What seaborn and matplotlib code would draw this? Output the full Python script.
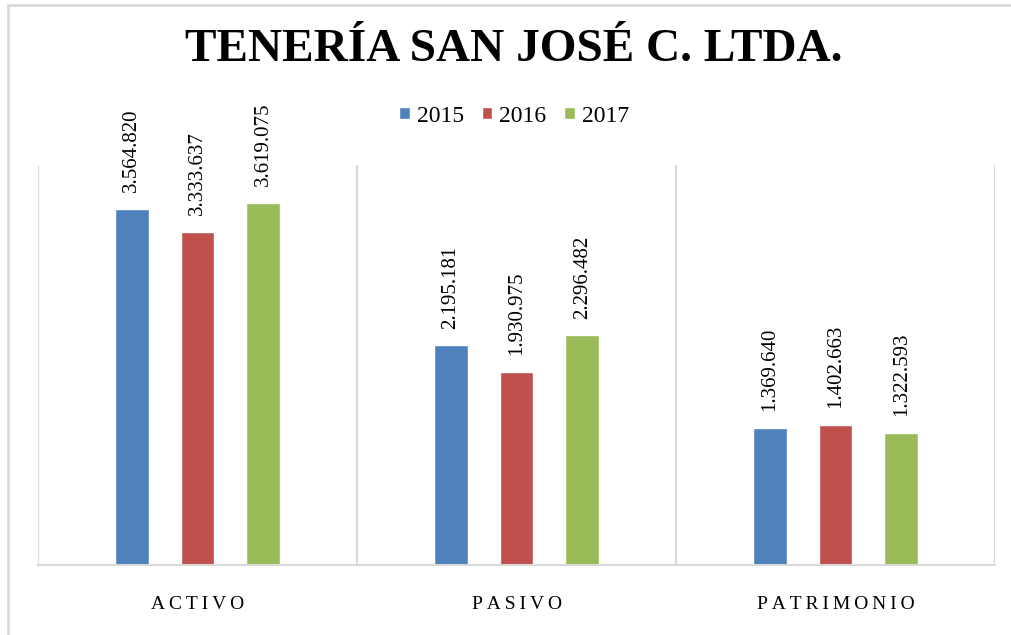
import pandas as pd
import numpy as np
import seaborn as sns
import matplotlib.pyplot as plt
from matplotlib.lines import Line2D

categorias = ["ACTIVO", "PASIVO", "PATRIMONIO"]
anios = ["2015", "2016", "2017"]
v2015 = [3564820, 2195181, 1369640]
v2016 = [3333637, 1930975, 1402663]
v2017 = [3619075, 2296482, 1322593]
colores = ["#4F81BD", "#C0504D", "#9BBB59"]

df = pd.DataFrame({
    "cuenta": categorias * 3,
    "anio": [a for a in anios for _ in categorias],
    "valor": v2015 + v2016 + v2017,
})

sns.set_style("white")
plt.rcParams["font.family"] = ["Liberation Serif", "DejaVu Serif"]
plt.rcParams["text.color"] = "black"
plt.rcParams["xtick.color"] = "black"

fig = plt.figure(figsize=(10.11, 6.35), dpi=100)
ax = fig.add_axes([38 / 1011, 1 - 565 / 635, (995 - 38) / 1011, 400 / 635])

sns.barplot(data=df, x="cuenta", y="valor", hue="anio", palette=colores,
            width=0.62, gap=0.485, ax=ax, saturation=1)

for c in ax.containers:
    ax.bar_label(c, labels=[f"{int(v):,}".replace(",", ".") for v in c.datavalues],
                 rotation=90, padding=12, fontsize=15, color="black")

ax.set_ylim(0, 4000000)
ax.set_xlim(-0.5, 2.5)
ax.set_yticks([])
ax.set_xlabel("")
ax.set_ylabel("")
for s in ["top", "left", "right"]:
    ax.spines[s].set_visible(False)
ax.spines["bottom"].set_color("#D9D9D9")
ax.spines["bottom"].set_linewidth(1.5)
for xv in [-0.5, 0.5, 1.5, 2.5]:
    ax.axvline(xv, color="#D9D9D9", lw=1.5, zorder=0)

ax.set_xticks(range(3))
ax.set_xticklabels(["\u2009".join(c) for c in categorias], fontsize=14, color="black")
ax.tick_params(axis="x", length=0, pad=22)

leg = ax.legend(loc="center", bbox_to_anchor=(514 / 1011, 1 - 116 / 635), bbox_transform=fig.transFigure,
                ncol=3, frameon=False, fontsize=17, handlelength=0.45, handleheight=0.45,
                handletextpad=0.3, columnspacing=0.75)
for t in leg.get_texts():
    t.set_color("black")

fig.text(514 / 1011, 1 - 50 / 635, "TENERÍA SAN JOSÉ C. LTDA.", ha="center", va="center",
         fontsize=34, fontweight="bold", color="black")

# marco exterior
fig.add_artist(Line2D([8 / 1011, 8 / 1011], [0, 1 - 5 / 635], transform=fig.transFigure, color="#D9D9D9", lw=2))
fig.add_artist(Line2D([8 / 1011, 1], [1 - 5 / 635, 1 - 5 / 635], transform=fig.transFigure, color="#D9D9D9", lw=2))

fig.savefig("out.png", dpi=100)
